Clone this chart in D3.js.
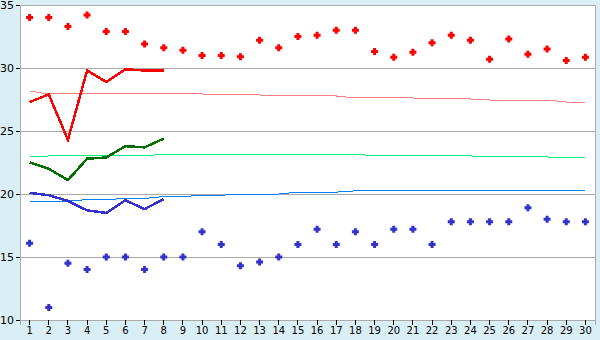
<!DOCTYPE html>
<html><head><meta charset="utf-8">
<script src="https://cdn.jsdelivr.net/npm/d3@7"></script>
<style>
html,body{margin:0;padding:0;background:#daeff5;}
svg{display:block;}
text{font-family:"DejaVu Sans",Verdana,sans-serif;font-size:10px;fill:#000;}
</style></head>
<body><svg id="c" width="600" height="340"></svg>
<script>
const days = d3.range(1, 31);
const yTicks = [10, 15, 20, 25, 30, 35];
const gridValues = [15, 20, 25, 30];
// daily extremes (markers)
const highDots = [34.0,34.0,33.3,34.2,32.9,32.9,31.9,31.6,31.4,31.0,31.0,30.9,32.2,31.6,32.5,32.6,33.0,33.0,31.3,30.85,31.25,32.0,32.6,32.2,30.7,32.3,31.1,31.5,30.6,30.85];
const lowDots = [16.1,11.0,14.5,14.0,15.0,15.0,14.0,15.0,15.0,17.0,16.0,14.3,14.6,15.0,16.0,17.2,16.0,17.0,16.0,17.2,17.2,16.0,17.8,17.8,17.8,17.8,18.9,18.0,17.8,17.8];
// current values (thick lines, first 8 days)
const redLine = [27.3,27.9,24.3,29.8,28.9,29.9,29.8,29.8];
const greenLine = [22.5,22.0,21.1,22.8,22.9,23.8,23.7,24.4];
const blueLine = [20.1,19.9,19.45,18.7,18.5,19.5,18.8,19.6];
// normals (thin lines)
const pinkNormal = [28.17,27.94,27.94,27.94,27.94,27.94,27.94,27.94,27.94,27.94,27.86,27.86,27.86,27.78,27.78,27.78,27.78,27.62,27.62,27.62,27.62,27.54,27.54,27.54,27.46,27.46,27.46,27.46,27.3,27.3];
const greenNormal = [22.94,23.02,23.02,23.02,23.02,23.02,23.02,23.17,23.17,23.17,23.17,23.17,23.17,23.17,23.17,23.17,23.17,23.17,23.02,23.02,23.02,23.02,23.02,23.02,22.94,22.94,22.94,22.94,22.86,22.86];
const blueNormal = [19.44,19.44,19.44,19.55,19.55,19.65,19.65,19.8,19.8,19.9,19.9,20.0,20.0,20.0,20.15,20.15,20.15,20.25,20.25,20.25,20.25,20.3,20.3,20.3,20.3,20.3,20.3,20.3,20.3,20.3];

const svg = d3.select("#c");
const L = 20, R = 595, T = 5, B = 320;
const x = d3.scaleBand().domain(days).range([L, R]).padding(0);
const cx = d => x(d) + x.bandwidth() / 2;
const y = d3.scaleLinear().domain([10, 35]).range([B, T]);

svg.append("rect").attr("x", L).attr("y", T).attr("width", R - L).attr("height", B - T)
  .attr("fill", "#fff").attr("stroke", "#aaaaaa").attr("shape-rendering", "crispEdges");

svg.append("g").selectAll("line").data(gridValues).join("line")
  .attr("x1", L).attr("x2", R).attr("y1", d => y(d)).attr("y2", d => y(d))
  .attr("stroke", "#aaaaaa").attr("shape-rendering", "crispEdges");

const yAxis = svg.append("g").attr("transform", `translate(${L},0)`)
  .call(d3.axisLeft(y).tickValues(yTicks).tickSize(4).tickPadding(2).tickFormat(d3.format("d")));
yAxis.select(".domain").attr("stroke", "#aaaaaa");
yAxis.selectAll(".tick line").attr("stroke", "#000");
yAxis.selectAll("text").style("font-size", "11px");

const xAxis = svg.append("g").attr("transform", `translate(0,${B})`)
  .call(d3.axisBottom(x).tickSize(5).tickPadding(2));
xAxis.select(".domain").attr("stroke", "#aaaaaa");
xAxis.selectAll(".tick line").attr("stroke", "#000");
xAxis.selectAll("text").style("font-size", "10px");
svg.selectAll(".domain,.tick line").attr("shape-rendering", "crispEdges");

function line(values, color, width) {
  svg.append("path").datum(values)
    .attr("d", d3.line().x((v, i) => cx(days[i])).y(v => y(v)))
    .attr("fill", "none").attr("stroke", color).attr("stroke-width", width)
    .attr("shape-rendering", "crispEdges");
}
line(pinkNormal, "#ff8080", 1);
line(greenNormal, "#00f080", 1);
line(blueNormal, "#0080ff", 1);
line(redLine, "#ff0000", 2.5);
line(greenLine, "#006f00", 2.5);
line(blueLine, "#3333cc", 2.5);

// bold plus marker: 7px wide, 3px thick arms
const boldPlus = {
  draw(ctx, size) {
    const a = 3.5, t = 1.5;
    ctx.moveTo(-t, -a); ctx.lineTo(t, -a); ctx.lineTo(t, -t); ctx.lineTo(a, -t);
    ctx.lineTo(a, t); ctx.lineTo(t, t); ctx.lineTo(t, a); ctx.lineTo(-t, a);
    ctx.lineTo(-t, t); ctx.lineTo(-a, t); ctx.lineTo(-a, -t); ctx.lineTo(-t, -t);
    ctx.closePath();
  }
};
const sym = d3.symbol().type(boldPlus);
function dots(values, color) {
  svg.append("g").selectAll("path").data(values).join("path")
    .attr("transform", (v, i) => `translate(${cx(days[i])},${y(v)})`)
    .attr("d", sym).attr("fill", color);
}
dots(highDots, "#ff0000");
dots(lowDots, "#3333cc");
</script></body></html>
